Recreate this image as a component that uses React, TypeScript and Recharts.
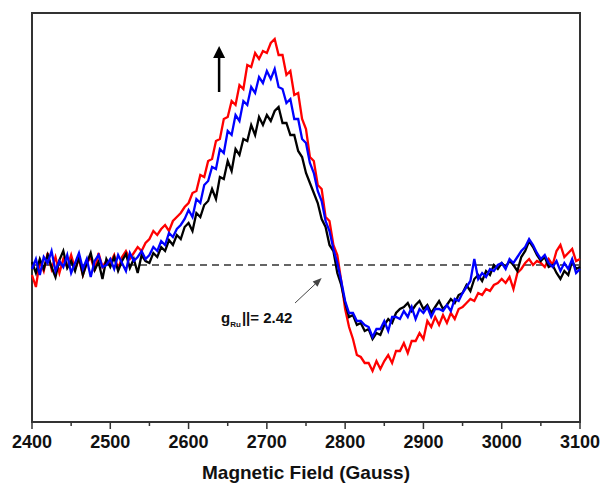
import { LineChart, Line, XAxis, YAxis, ReferenceLine, ReferenceArea } from 'recharts'

// EPR spectra, field sampled every 5 G from 2400 to 3100
const FIELD_START = 2400
const FIELD_STEP = 5

const blackSignal = [
  3, -8, 6, -4, 10, -2, -12, 5, 14, -3,
  4, -6, 8, -10, 2, 12, -5, 3, -14, 6,
  -2, 8, -6, 4, 11, -3, 6, -8, 10, 4,
  2, 12, 8, 18, 14, 25, 20, 30, 26, 38,
  42, 34, 52, 48, 60, 64, 76, 66, 88, 86,
  104, 94, 116, 110, 126, 124, 140, 130, 148, 140,
  150, 144, 154, 158, 142, 142, 130, 130, 114, 108,
  92, 82, 72, 62, 46, 38, 20, 14, -8, -20,
  -38, -52, -50, -60, -58, -66, -64, -74, -68, -70,
  -60, -54, -58, -48, -44, -42, -38, -46, -40, -36,
  -44, -40, -48, -42, -36, -44, -40, -34, -38, -30,
  -28, -20, -26, -14, -10, -16, -6, -10, 0, -4,
  2, -2, 4, 0, -6, 8, 14, 24, 18, 10,
  4, 8, -2, 0, -8, -14, -6, -10, 4, -4,
  -2,
]

const redSignal = [
  -10, -22, 4, -6, 12, -4, 8, -8, 6, -2,
  10, -4, 6, -10, 2, 8, -6, 12, -2, 4,
  2, 10, -4, 8, 14, 6, 12, 18, 14, 22,
  26, 34, 30, 36, 40, 34, 44, 48, 52, 58,
  62, 72, 74, 90, 88, 104, 106, 124, 126, 146,
  148, 164, 160, 180, 176, 200, 198, 212, 206, 214,
  212, 222, 226, 210, 210, 190, 194, 170, 172, 146,
  136, 108, 104, 80, 76, 48, 44, 20, 10, -16,
  -44, -62, -74, -90, -92, -98, -98, -106, -96, -104,
  -96, -90, -98, -86, -86, -78, -88, -76, -76, -68,
  -74, -56, -62, -52, -60, -50, -58, -48, -54, -44,
  -42, -38, -34, -36, -28, -30, -24, -26, -20, -18,
  -14, -18, -12, -24, -8, -4, 2, 6, 0, 4,
  2, -2, 6, 0, 14, 20, 8, 12, 16, 4,
  6,
]

const blueSignal = [
  -4, 6, -10, 8, 2, 14, -6, 4, -2, 10,
  -8, 2, 12, -4, 6, -12, 4, 10, -2, 0,
  6, -4, 10, 2, -6, 12, 4, 8, 14, 6,
  10, 18, 14, 24, 20, 32, 28, 36, 40, 46,
  55, 48, 66, 62, 80, 84, 98, 96, 116, 112,
  134, 130, 150, 144, 164, 160, 178, 172, 188, 182,
  194, 186, 196, 178, 176, 162, 166, 146, 146, 126,
  122, 102, 92, 74, 64, 44, 34, 16, 2, -16,
  -36, -48, -48, -56, -56, -60, -62, -72, -64, -64,
  -56, -66, -52, -52, -54, -46, -52, -42, -54, -44,
  -48, -42, -52, -44, -44, -46, -40, -46, -34, -36,
  -28, -22, -16, 6, -14, -8, -12, -4, -6, 0,
  2, -4, 6, 2, 8, 14, 18, 26, 20, 12,
  6, 10, 2, -2, 4, -6, 2, -4, 6, -8,
  -4,
]

const fieldTicks = [2400, 2450, 2500, 2550, 2600, 2650, 2700, 2750, 2800, 2850, 2900, 2950, 3000, 3050, 3100]

const data = blackSignal.map((v, i) => ({
  field: FIELD_START + i * FIELD_STEP,
  black: v,
  red: redSignal[i],
  blue: blueSignal[i],
}))

const FONT = '"Liberation Sans", Arial, sans-serif'

function FieldTick(props: any) {
  const { x, y, payload } = props
  const major = payload.value % 100 === 0
  return (
    <g>
      <line x1={x} y1={y} x2={x} y2={y + (major ? 7 : 4)} stroke="#333" strokeWidth={1.5} />
      {major && (
        <text x={x} y={y + 26} textAnchor="middle" fontSize={18} fontWeight={700} fill="#111" fontFamily={FONT}>
          {payload.value}
        </text>
      )}
    </g>
  )
}

function arrow(color: string, width: number, len: number, half: number, note?: boolean) {
  return (p: any) => {
    const { x1, y1, x2, y2 } = p
    const dx = x2 - x1, dy = y2 - y1
    const d = Math.hypot(dx, dy) || 1
    const ux = dx / d, uy = dy / d
    const bx = x2 - ux * len, by = y2 - uy * len
    return (
      <g>
        <line x1={x1} y1={y1} x2={bx} y2={by} stroke={color} strokeWidth={width} />
        <polygon
          points={`${x2},${y2} ${bx - uy * half},${by + ux * half} ${bx + uy * half},${by - ux * half}`}
          fill={color}
        />
        {note && (
          <text x={x1 - 74} y={y1 + 20} fontSize={15} fontWeight={700} fill="#111" fontFamily={FONT}>
            g
            <tspan fontSize={8} dy={4}>Ru</tspan>
            <tspan dy={-4} dx={1}>||= 2.42</tspan>
          </text>
        )}
      </g>
    )
  }
}

export default function App() {
  return (
    <div style={{ position: 'absolute', left: 0, top: 0 }}>
      <LineChart width={601} height={483} data={data} margin={{ top: 13, right: 21, left: 32, bottom: 0 }}>
        <XAxis
          dataKey="field"
          type="number"
          domain={[2400, 3100]}
          ticks={fieldTicks}
          interval={0}
          axisLine={false}
          tickLine={false}
          tickSize={0}
          tickMargin={0}
          height={61}
          tick={(p: any) => <FieldTick {...p} />}
          label={{ value: 'Magnetic Field (Gauss)', position: 'insideBottom', offset: 4, fontSize: 19, fontWeight: 700, fill: '#111', fontFamily: FONT }}
        />
        <YAxis hide type="number" domain={[-157, 252]} allowDataOverflow />
        <ReferenceLine y={0} stroke="#333" strokeWidth={1.5} strokeDasharray="7 5" />
        <Line dataKey="red" stroke="#ff0000" strokeWidth={2.3} dot={false} isAnimationActive={false} />
        <Line dataKey="black" stroke="#000000" strokeWidth={2.3} dot={false} isAnimationActive={false} />
        <Line dataKey="blue" stroke="#0000ff" strokeWidth={2.3} dot={false} isAnimationActive={false} />
        <ReferenceLine segment={[{ x: 2639, y: 173 }, { x: 2639, y: 219 }]} shape={arrow('#000', 2.5, 12, 6)} />
        <ReferenceLine segment={[{ x: 2736, y: -38 }, { x: 2770, y: -13 }]} shape={arrow('#444', 1, 9, 3.5, true)} />
        <ReferenceArea x1={2400} x2={3100} y1={-157} y2={252} fill="none" fillOpacity={0} stroke="#333" strokeWidth={2} />
      </LineChart>
    </div>
  )
}
